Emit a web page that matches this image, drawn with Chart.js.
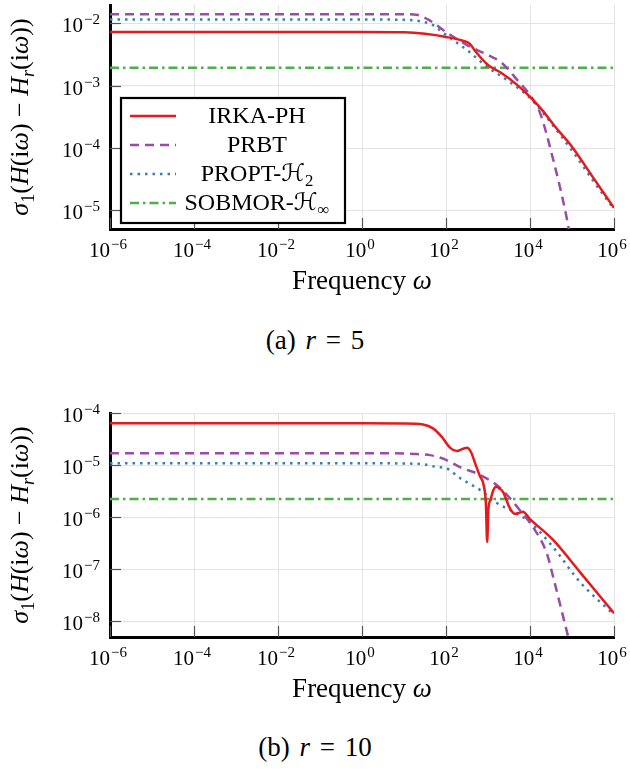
<!DOCTYPE html>
<html><head><meta charset="utf-8">
<script src="https://cdn.jsdelivr.net/npm/chart.js@4"></script>
<style>
html,body{margin:0;padding:0;background:#fff;width:630px;height:769px;overflow:hidden;}
canvas{position:absolute;left:0;}
.cap{position:absolute;left:0;width:630px;text-align:center;font-family:'Liberation Serif',serif;font-size:27px;line-height:30px;color:#000;white-space:pre;word-spacing:3px;}
</style></head><body>
<canvas id="c1" width="630" height="310" style="top:0px"></canvas>
<canvas id="c2" width="630" height="335" style="top:380px"></canvas>
<div class="cap" style="top:325px">(a) <i>r</i> = 5</div>
<div class="cap" style="top:732px">(b) <i>r</i> = 10</div>
<script>
// ---------------- data ----------------
const seriesNames = ['IRKA-PH', 'PRBT', 'PROPT-\u210B\u2082', 'SOBMOR-\u210B\u221E'];
const xTicks = [1e-6, 1e-4, 1e-2, 1, 1e2, 1e4, 1e6];
const yTicksA = [1e-5, 1e-4, 1e-3, 1e-2];
const yTicksB = [1e-8, 1e-7, 1e-6, 1e-5, 1e-4];
const xRange = [1e-6, 1e6];
const yRangeA = [5.05e-6, 1.96e-2];
const yRangeB = [4.93e-9, 1e-4];

// (a) r = 5
const irkaFreqA = [1e-6, 1, 10, 31.6, 100, 251, 372, 501, 1000, 2000, 5010, 1e4, 2e4, 3.98e4, 1e5, 3.16e5, 1e6];
const irkaErrA  = [7.26e-3, 7.26e-3, 7.16e-3, 6.76e-3, 6.03e-3, 5.25e-3, 4.68e-3, 3.55e-3, 2.14e-3, 1.62e-3, 1.02e-3, 6.61e-4, 3.98e-4, 2.19e-4, 1.05e-4, 3.39e-5, 1.10e-5];
const prbtFreqA = [1e-6, 1, 10, 20, 39.8, 100, 316, 1000, 2000, 5750, 1e4, 1.74e4, 3.55e4, 7.59e4, 1e5];
const prbtErrA  = [1.393e-2, 1.393e-2, 1.39e-2, 1.365e-2, 1.12e-2, 7.24e-3, 4.47e-3, 3.09e-3, 2.40e-3, 1.10e-3, 7.08e-4, 3.63e-4, 6.61e-5, 7.24e-6, 2.51e-6];
const proptFreqA = [1e-6, 1, 10, 25.1, 49, 100, 316, 955, 2820, 1e4, 3.55e4, 1.05e5, 3.16e5, 1e6];
const proptErrA  = [1.148e-2, 1.148e-2, 1.135e-2, 1.07e-2, 9.33e-3, 6.46e-3, 3.72e-3, 2.0e-3, 1.23e-3, 6.31e-4, 2.29e-4, 8.71e-5, 3.02e-5, 1.05e-5];
const sobmorFreqA = [1e-6, 1e6];
const sobmorErrA  = [1.94e-3, 1.94e-3];

// (b) r = 10
const irkaFreqB = [1e-6, 1, 10, 28.2, 50.1, 79.4, 126, 182, 251, 316, 398, 490, 631, 794, 891, 955, 1023, 1148, 1318, 1549, 1862, 2291, 3311, 4365, 5495, 6761, 1e4, 3.55e4, 1.55e5, 1e6];
const irkaErrB  = [6.34e-5, 6.34e-5, 6.31e-5, 6.03e-5, 5.01e-5, 3.47e-5, 2.14e-5, 1.86e-5, 2.04e-5, 2.14e-5, 1.74e-5, 1.10e-5, 6.31e-6, 3.98e-6, 1.78e-6, 3.31e-7, 1.41e-6, 2.14e-6, 3.16e-6, 3.80e-6, 3.55e-6, 3.02e-6, 1.48e-6, 1.15e-6, 1.20e-6, 1.26e-6, 9.12e-7, 3.63e-7, 8.71e-8, 1.41e-8];
const prbtFreqB = [1e-6, 1, 10, 20, 41.7, 100, 214, 646, 1950, 5750, 1.17e4, 2.51e4, 3.55e4, 6.17e4, 1e5];
const prbtErrB  = [1.68e-5, 1.68e-5, 1.67e-5, 1.62e-5, 1.55e-5, 1.26e-5, 9.12e-6, 6.46e-6, 3.63e-6, 1.35e-6, 6.46e-7, 2.0e-7, 7.08e-8, 1.20e-8, 2.51e-9];
const proptFreqB = [1e-6, 1, 10, 31.6, 61.7, 100, 214, 646, 1622, 3981, 1e4, 3.55e4, 1.55e5, 1e6];
const proptErrB  = [1.08e-5, 1.08e-5, 1.07e-5, 1.02e-5, 9.12e-6, 8.71e-6, 5.62e-6, 3.31e-6, 1.86e-6, 1.26e-6, 7.94e-7, 2.63e-7, 5.62e-8, 1.32e-8];
const sobmorFreqB = [1e-6, 1e6];
const sobmorErrB  = [2.22e-6, 2.22e-6];

// ---------------- styling ----------------
const SERIF = "'Liberation Serif','DejaVu Serif','Times New Roman',serif";
const MATHF = "'DejaVu Serif','DejaVu Sans',serif";
const styles = [
  {color:'#e41a1c', dash:[]},
  {color:'#984ea3', dash:[9,6]},
  {color:'#377eb8', dash:[2.5,5]},
  {color:'#4daf4a', dash:[9,4,2.5,4]}
];
const legendRich = [
  [{t:'IRKA-PH'}],
  [{t:'PRBT'}],
  [{t:'PROPT-'},{t:'\u210B',m:1},{t:'2',sub:1}],
  [{t:'SOBMOR-'},{t:'\u210B',m:1},{t:'\u221E',sub:1}]
];
const yTitleRich = [
  {t:'\u03C3',it:1},{t:'1',sub:1},{t:'('},{t:'H',it:1},{t:'(i'},{t:'\u03C9',it:1},{t:')'},
  {t:' \u2212 '},{t:'H',it:1},{t:'r',it:1,sub:1},{t:'(i'},{t:'\u03C9',it:1},{t:'))'}
];
const xTitleRich = [{t:'Frequency '},{t:'\u03C9',it:1}];

function setF(ctx, s, size){
  const sz = s.sub ? size*0.7 : size;
  ctx.font = (s.it?'italic ':'') + sz + 'px ' + (s.m?MATHF:SERIF);
  return s.sub ? size*0.22 : 0;
}
function richW(ctx, segs, size){
  let w=0; for(const s of segs){ setF(ctx,s,size); w+=ctx.measureText(s.t).width; } return w;
}
function drawRich(ctx, segs, x, base, size, align){
  const w = richW(ctx, segs, size);
  let cx = align==='center' ? x-w/2 : (align==='right' ? x-w : x);
  ctx.textAlign='left'; ctx.textBaseline='alphabetic'; ctx.fillStyle='#000';
  for(const s of segs){ const dy=setF(ctx,s,size); ctx.fillText(s.t,cx,base+dy); cx+=ctx.measureText(s.t).width; }
}
function drawPow(ctx, v, x, base, align){
  const e = Math.round(Math.log10(v));
  const b='10', ex=(e<0?'\u2212':'')+Math.abs(e);
  ctx.font='21px '+SERIF; const wb=ctx.measureText(b).width;
  ctx.font='15px '+SERIF; const we=ctx.measureText(ex).width;
  const w = wb+1+we;
  const x0 = align==='right' ? x-w : x-w/2-2;
  ctx.textAlign='left'; ctx.textBaseline='alphabetic'; ctx.fillStyle='#000';
  ctx.font='21px '+SERIF; ctx.fillText(b,x0,base);
  ctx.font='15px '+SERIF; ctx.fillText(ex,x0+wb+1,base-8);
}

const decor = {
  id:'decor',
  beforeDatasetsDraw(chart){
    const ctx=chart.ctx, a=chart.chartArea, xs=chart.scales.x, ys=chart.scales.y;
    ctx.save(); ctx.strokeStyle='#555'; ctx.lineWidth=1.2;
    for(const t of xs.ticks){ const px=Math.round(xs.getPixelForValue(t.value))+0.5; ctx.beginPath(); ctx.moveTo(px,a.bottom); ctx.lineTo(px,a.bottom-11); ctx.stroke(); }
    for(const t of ys.ticks){ const py=Math.round(ys.getPixelForValue(t.value))+0.5; ctx.beginPath(); ctx.moveTo(a.left,py); ctx.lineTo(a.left+11,py); ctx.stroke(); }
    ctx.restore();
  },
  afterDraw(chart, args, opts){
    const ctx=chart.ctx, a=chart.chartArea, xs=chart.scales.x, ys=chart.scales.y;
    ctx.save();
    for(const t of ys.ticks){ drawPow(ctx, t.value, a.left-10, ys.getPixelForValue(t.value)+9, 'right'); }
    for(const t of xs.ticks){ drawPow(ctx, t.value, xs.getPixelForValue(t.value), a.bottom+28, 'center'); }
    drawRich(ctx, xTitleRich, (a.left+a.right)/2, a.bottom+60, 27, 'center');
    ctx.save(); ctx.translate(22+6, (a.top+a.bottom)/2); ctx.rotate(-Math.PI/2);
    drawRich(ctx, yTitleRich, 0, 0, 26, 'center'); ctx.restore();
    if(opts.legend){
      const L=a.left+11, T=a.top+93, W=224, H=125;
      ctx.fillStyle='#fff'; ctx.fillRect(L,T,W,H);
      ctx.strokeStyle='#000'; ctx.lineWidth=2.2; ctx.strokeRect(L,T,W,H);
      chart.data.datasets.forEach((ds,i)=>{
        const cy = T+18+i*29;
        ctx.save(); ctx.strokeStyle=ds.borderColor; ctx.lineWidth=ds.borderWidth; ctx.setLineDash(ds.borderDash||[]);
        ctx.beginPath(); ctx.moveTo(L+9,cy); ctx.lineTo(L+55,cy); ctx.stroke(); ctx.restore();
        drawRich(ctx, legendRich[i], L+136, cy+7, 24, 'center');
      });
    }
    ctx.restore();
  }
};

function pts(xs, ys){ return xs.map((x,i)=>({x:x, y:ys[i]})); }
function makeDatasets(list){
  return list.map((p,i)=>({
    label: seriesNames[i], data: pts(p[0],p[1]),
    borderColor: styles[i].color, borderDash: styles[i].dash, borderWidth: 2.5,
    pointRadius:0, fill:false, cubicInterpolationMode:'monotone', borderCapStyle:'butt'
  }));
}
function makeChart(id, datasets, yTicks, yRange, padTop, xH, legend){
  return new Chart(document.getElementById(id), {
    type:'line',
    data:{datasets},
    options:{
      responsive:false, animation:false, events:[],
      layout:{padding:{top:padTop, right:16, left:0, bottom:0}},
      plugins:{legend:{display:false}, tooltip:{enabled:false}, decor:{legend}},
      scales:{
        x:{type:'logarithmic', min:xRange[0], max:xRange[1],
           afterBuildTicks:s=>{s.ticks=xTicks.map(v=>({value:v}));},
           afterFit:s=>{s.height=xH;},
           ticks:{display:false},
           grid:{color:'#e3e3e3', lineWidth:1, drawTicks:false},
           border:{display:true, color:'#000', width:3}},
        y:{type:'logarithmic', min:yRange[0], max:yRange[1],
           afterBuildTicks:s=>{s.ticks=yTicks.map(v=>({value:v}));},
           afterFit:s=>{s.width=110;},
           ticks:{display:false},
           grid:{color:'#e3e3e3', lineWidth:1, drawTicks:false},
           border:{display:true, color:'#000', width:3}}
      }
    },
    plugins:[decor]
  });
}

function build(){
  makeChart('c1', makeDatasets([[irkaFreqA,irkaErrA],[prbtFreqA,prbtErrA],[proptFreqA,proptErrA],[sobmorFreqA,sobmorErrA]]), yTicksA, yRangeA, 5, 81, true);
  makeChart('c2', makeDatasets([[irkaFreqB,irkaErrB],[prbtFreqB,prbtErrB],[proptFreqB,proptErrB],[sobmorFreqB,sobmorErrB]]), yTicksB, yRangeB, 33, 78, false);
}
const fontSpecs = ['21px "Liberation Serif"', 'italic 21px "Liberation Serif"', '21px "DejaVu Serif"'];
if (document.fonts && document.fonts.load) {
  Promise.all(fontSpecs.map(f => document.fonts.load(f))).then(build, build);
} else { build(); }
</script>
</body></html>
